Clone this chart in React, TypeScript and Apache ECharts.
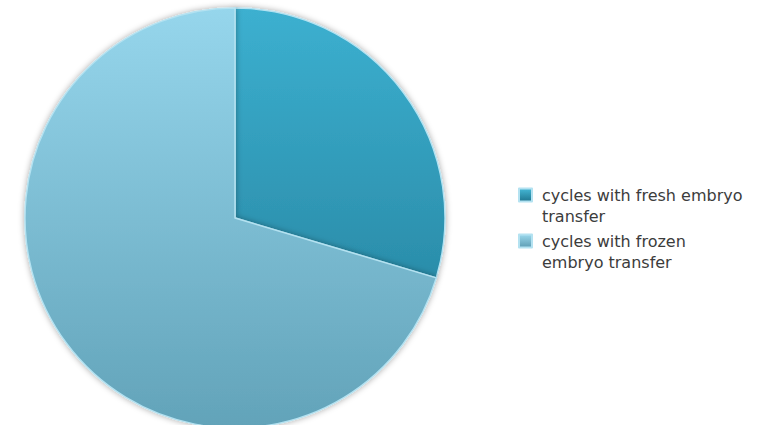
import React, { useEffect, useRef } from "react";
import * as echarts from "echarts";

const categories = ["cycles with fresh embryo transfer", "cycles with frozen embryo transfer"];
const legendLines = [
  ["cycles with fresh embryo", "transfer"],
  ["cycles with frozen", "embryo transfer"],
];
const values = [29.6, 70.4];

const grad = (top: string, bottom: string) =>
  new echarts.graphic.LinearGradient(
    0,
    8,
    0,
    428,
    [
      { offset: 0, color: top },
      { offset: 1, color: bottom },
    ],
    true
  );

export default function App() {
  const ref = useRef<HTMLDivElement>(null);
  useEffect(() => {
    if (!ref.current) return;
    const chart = echarts.init(ref.current, null, { renderer: "svg" });
    const colors = [grad("#3cb0d0", "#217a95"), grad("#96d6ec", "#62a3b9")];
    const iconColors = [
      new echarts.graphic.LinearGradient(0, 0, 0, 1, [
        { offset: 0, color: "#45b8d6" },
        { offset: 1, color: "#1f7690" },
      ]),
      new echarts.graphic.LinearGradient(0, 0, 0, 1, [
        { offset: 0, color: "#9ad8ec" },
        { offset: 1, color: "#5e9db4" },
      ]),
    ];
    const L = 21;
    const font = "DejaVu Sans";
    const size = 16;
    chart.setOption({
      animation: false,
      backgroundColor: "#ffffff",
      legend: {
        orient: "vertical",
        left: 513,
        top: 158.5,
        itemWidth: 13,
        itemHeight: 13,
        itemGap: -17,
        icon: "rect",
        data: categories.map((c, i) => ({ name: c, itemStyle: { color: iconColors[i] } })),
        formatter: (name: string) => {
          const l = legendLines[categories.indexOf(name)];
          return " \n{t|" + l[0] + "}\n{t|" + l[1] + "}";
        },
        textStyle: {
          fontFamily: font,
          fontSize: size,
          color: "#3c3c3c",
          lineHeight: L,
          rich: {
            t: {
              fontFamily: font,
              fontSize: size,
              color: "#3c3c3c",
              lineHeight: L,
              padding: [0, 0, 0, 5],
            },
          },
        },
      },
      series: [
        {
          type: "pie",
          center: [235, 218],
          radius: 210,
          startAngle: 90,
          clockwise: true,
          label: { show: false },
          labelLine: { show: false },
          emphasis: { disabled: true },
          itemStyle: {
            borderColor: "#b4e2f1",
            borderWidth: 1.5,
            shadowBlur: 6,
            shadowColor: "rgba(0,0,0,0.35)",
          },
          data: categories.map((c, i) => ({
            name: c,
            value: values[i],
            itemStyle: { color: colors[i] },
          })),
        },
      ],
    });
    return () => chart.dispose();
  }, []);
  return (
    <div
      ref={ref}
      style={{ position: "fixed", left: 0, top: 0, width: 765, height: 425 }}
    />
  );
}
